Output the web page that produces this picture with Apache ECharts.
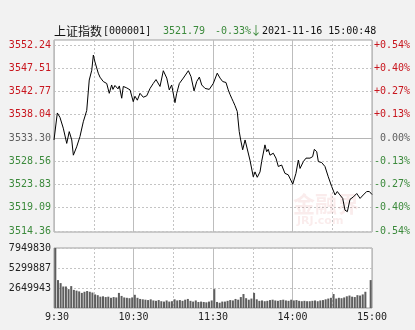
<!DOCTYPE html>
<html><head><meta charset="utf-8">
<script src="https://cdn.jsdelivr.net/npm/echarts@6/dist/echarts.min.js"></script>
<style>html,body{margin:0;padding:0;background:#f2f2f2}#c{width:415px;height:330px}</style>
</head><body><div id="c"></div>
<script>
// ---- header texts ----
const titleName = '上证指数';
const titleCode = '[000001]';
const lastPrice = '3521.79';
const changePct = '-0.33%';
const changeArrow = '↓';
const timeStamp = '2021-11-16 15:00:48';

// ---- axis ticks ----
const timeTickMinutes = [0, 60, 120, 180, 240];
const timeTickLabels = [' 9:30', '10:30', '11:30', '14:00', '15:00'];
const priceMin = 3514.36, priceMax = 3552.24, prevClose = 3533.30;
const priceTickLabels = ['3514.36','3519.09','3523.83','3528.56','3533.30','3538.04','3542.77','3547.51','3552.24'];
const pctTickLabels = ['-0.54%','-0.40%','-0.27%','-0.13%',' 0.00%','+0.13%','+0.27%','+0.40%','+0.54%'];
const volMax = 7949830;
const volTickLabels = ['', '2649943', '5299887', '7949830'];

// ---- price line (minutes since 9:30, trading time) ----
const priceMinutes = [0,2.5,4.5,7,9.6,11.5,13.4,14.6,17.1,19.6,22.1,24.7,26.6,28.5,29.7,30.9,32.2,33.4,34.7,36,37.2,39.8,41.7,43.5,44.5,46,47.3,48.3,49.3,51.1,52.3,54.9,57.4,59.8,61.1,62.9,64.9,67.4,70,72.5,74.9,77,78.5,80,82.5,85.1,87,88.8,91.3,92.6,94.6,97.6,101.4,103.4,105.7,107.7,109.7,111.5,114,115.5,117.2,118.5,120.2,123.2,125.3,127.3,129.8,131.5,132.8,134.1,135.3,136.6,138.3,139.8,140.9,142.4,144.2,145.7,147.9,150.4,151.7,153.4,155.5,156.7,159.2,160.5,161.7,163,165.5,167.5,169.3,171.8,174.3,176.8,178.1,180.2,182.6,184.4,185.7,188.2,190.2,193.2,195.2,196.5,198.3,199.5,202,204.5,207,209.6,212.1,213.8,215.8,217.9,219.6,221.4,223.4,225.9,228.5,231,233.4,236,238,240];
const priceValues = [3532.9,3538.4,3537.5,3535.3,3532.2,3534.6,3532.9,3529.8,3531.5,3533.6,3536.6,3538.9,3545.1,3547.1,3550.2,3548.8,3549.0,3546.5,3545.7,3546.0,3544.8,3544.4,3542.4,3544.1,3543.2,3544.0,3544.4,3543.3,3543.9,3541.4,3543.8,3543.5,3543.1,3540.7,3541.8,3541.0,3542.4,3541.6,3541.9,3543.4,3544.4,3545.2,3544.8,3543.8,3547.0,3545.5,3543.1,3544.1,3540.5,3542.4,3544.4,3545.5,3547.0,3545.8,3542.9,3544.8,3545.7,3544.1,3543.4,3543.8,3543.2,3543.6,3544.4,3546.5,3545.5,3544.8,3544.6,3543.1,3542.2,3541.4,3540.7,3539.9,3538.7,3534.6,3532.9,3530.9,3532.9,3532.6,3528.8,3525.4,3526.4,3525.3,3526.4,3528.5,3531.9,3530.5,3531.0,3529.8,3530.2,3529.2,3527.5,3527.8,3526.1,3525.8,3526.0,3523.9,3526.1,3528.8,3527.1,3528.5,3529.2,3529.2,3529.5,3531.0,3530.5,3528.5,3528.3,3527.5,3525.4,3523.4,3521.7,3522.4,3521.7,3521.0,3518.6,3518.3,3520.8,3521.3,3522.0,3521.0,3521.7,3522.4,3522.4,3521.79];

// ---- volume (one bar per 2-minute interval) ----
const volumeValues = [7949830,3700000,3300000,2850000,2850000,2500000,2900000,2400000,2300000,2200000,
2000000,2150000,2250000,2150000,2050000,1800000,1700000,1500000,1550000,1450000,
1500000,1350000,1450000,1400000,2000000,1600000,1400000,1350000,1300000,1400000,
1750000,1350000,1200000,1150000,1100000,1050000,1150000,1000000,950000,1050000,
900000,850000,1000000,850000,900000,1150000,1000000,1050000,950000,1100000,
1200000,950000,850000,1000000,800000,850000,800000,750000,850000,1000000,
2500000,800000,700000,850000,850000,950000,1050000,1000000,1200000,1100000,
1450000,1850000,1300000,1100000,1250000,2000000,1150000,950000,1000000,900000,
950000,1050000,1100000,1000000,950000,1050000,1100000,1000000,950000,1100000,
1000000,1050000,950000,900000,950000,900000,900000,950000,1000000,900000,
1000000,1050000,1150000,1250000,1350000,1850000,1250000,1350000,1300000,1400000,
1550000,1650000,1500000,1450000,1700000,1650000,1800000,2150000,0,3700000];
// bar placed at the middle of its 2-minute interval
const volumeMinutes = volumeValues.map((v, i) => i * 2 + 1);

const RED = '#c8161e', GREEN = '#3c8a3c', GRAY = '#606060';
const MONO = '"DejaVu Sans Mono", "Liberation Mono", monospace';
const priceStep = (priceMax - priceMin) / 8;
const tickIdx = v => Math.round((v - priceMin) / priceStep);
const tickColor = v => { const i = tickIdx(v); return i > 4 ? RED : (i < 4 ? GREEN : GRAY); };

const dashed = {show: true, lineStyle: {color: '#c4c4c4', type: [2, 2], width: 1}};
const solid = {show: true, lineStyle: {color: '#bdbdbd', type: 'solid', width: 1}};
const bare = {axisLine: {show: false}, axisTick: {show: false}, axisLabel: {show: false}};

const chart = echarts.init(document.getElementById('c'), null, {renderer: 'canvas'});
chart.setOption({
  animation: false,
  backgroundColor: '#f2f2f2',
  grid: [
    {left: 54, top: 40, width: 318, height: 192, show: true, backgroundColor: '#fff', borderColor: '#a0a0a0', borderWidth: 1},
    {left: 54, top: 45, width: 318, height: 186},
    {left: 54, top: 248, width: 318, height: 60, show: true, backgroundColor: '#fff', borderColor: '#a0a0a0', borderWidth: 1}
  ],
  xAxis: [
    Object.assign({gridIndex: 0, type: 'value', min: 0, max: 240, interval: 30, splitLine: dashed}, bare),
    Object.assign({gridIndex: 0, type: 'value', min: 0, max: 240, interval: 60, splitLine: solid}, bare),
    Object.assign({gridIndex: 1, type: 'value', min: 0, max: 240, splitLine: {show: false}}, bare),
    Object.assign({gridIndex: 2, type: 'value', min: 0, max: 240, interval: 30, splitLine: dashed}, bare),
    {gridIndex: 2, type: 'value', position: 'bottom', min: 0, max: 240, interval: 60, splitLine: solid,
     axisLine: {show: false}, axisTick: {show: false},
     axisLabel: {show: true, showMinLabel: true, showMaxLabel: true, margin: 4, color: '#222', fontSize: 10, fontFamily: MONO,
       formatter: v => { const i = timeTickMinutes.indexOf(v); return i >= 0 ? timeTickLabels[i] : ''; }}}
  ],
  yAxis: [
    Object.assign({gridIndex: 0, type: 'value', min: 0, max: 1, splitLine: {show: false}}, bare),
    {gridIndex: 1, type: 'value', position: 'left', min: priceMin, max: priceMax, interval: priceStep,
     axisLine: {show: false}, axisTick: {show: false}, splitLine: dashed,
     axisLabel: {show: true, showMinLabel: true, showMaxLabel: true, margin: 3, fontSize: 10, fontFamily: MONO,
       color: v => tickColor(v), formatter: v => priceTickLabels[tickIdx(v)] || ''}},
    {gridIndex: 1, type: 'value', position: 'right', min: priceMin, max: priceMax, interval: priceStep,
     axisLine: {show: false}, axisTick: {show: false}, splitLine: {show: false},
     axisLabel: {show: true, showMinLabel: true, showMaxLabel: true, margin: 2, fontSize: 10, fontFamily: MONO,
       color: v => tickColor(v), formatter: v => pctTickLabels[tickIdx(v)] || ''}},
    {gridIndex: 2, type: 'value', min: 0, max: volMax, interval: volMax / 3,
     axisLine: {show: false}, axisTick: {show: false}, splitLine: dashed,
     axisLabel: {show: true, showMinLabel: true, showMaxLabel: true, margin: 3, fontSize: 10, fontFamily: MONO, color: '#222',
       formatter: v => volTickLabels[Math.round(v / (volMax / 3))] || ''}}
  ],
  series: [
    {type: 'line', xAxisIndex: 2, yAxisIndex: 1, showSymbol: false, symbol: 'none',
     data: priceMinutes.map((m, i) => [m, priceValues[i]]),
     lineStyle: {color: '#000', width: 1}, z: 5,
     markLine: {silent: true, symbol: 'none', label: {show: false},
       lineStyle: {color: '#b5b5b5', type: 'solid', width: 1}, data: [{yAxis: prevClose}]}},
    {type: 'bar', xAxisIndex: 4, yAxisIndex: 3, barWidth: 2, clip: false,
     data: volumeMinutes.map((m, i) => [m, volumeValues[i]]),
     itemStyle: {color: '#5e5e5e'}}
  ],
  graphic: [
    {type: 'text', left: 54, top: 25, style: {text: titleName, fill: '#111', font: '12px "Noto Sans CJK SC"'}},
    {type: 'text', left: 103, top: 26, style: {text: titleCode, fill: '#111', font: '10px ' + MONO}},
    {type: 'text', left: 163, top: 26, style: {text: lastPrice, fill: GREEN, font: '10px ' + MONO}},
    {type: 'text', left: 215, top: 26, style: {text: changePct, fill: GREEN, font: '10px ' + MONO}},
    {type: 'text', left: 250, top: 24, style: {text: changeArrow, fill: GREEN, font: '12px "Noto Sans CJK SC"'}},
    {type: 'text', left: 262, top: 26, style: {text: timeStamp, fill: '#111', font: '10px ' + MONO}},
    {type: 'text', left: 293, top: 193, z: 1, style: {text: '金融界', fill: 'rgba(220,110,110,0.13)', font: 'bold 22px "Noto Sans CJK SC"'}},
    {type: 'text', left: 297, top: 216, z: 1, style: {text: 'JRJ.com', fill: 'rgba(220,110,110,0.13)', font: 'bold 11px "DejaVu Sans"'}}
  ]
});
</script></body></html>
